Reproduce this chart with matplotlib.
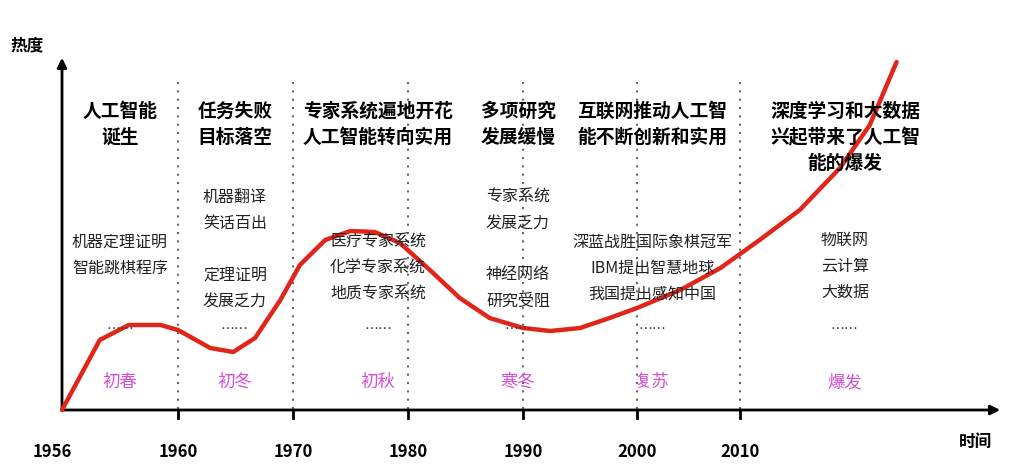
import numpy as np
import matplotlib.pyplot as plt

plt.rcParams['font.family'] = ['Noto Sans CJK SC', 'Noto Sans CJK JP', 'DejaVu Sans']

# data
tick_years = [1956, 1960, 1970, 1980, 1990, 2000, 2010]
curve_years = [1956, 1957.3, 1958.3, 1959.4, 1960, 1962.8, 1964.8, 1966.7, 1968.9,
               1970.6, 1972.8, 1975, 1977.1, 1979.3, 1981.9, 1984.5, 1987.1, 1990,
               1992.4, 1995, 1997.6, 2000, 2004.2, 2008.1, 2011.9, 2015.8, 2019.7,
               2022.6, 2025.2]
curve_heat = [0, 70, 85, 85, 80, 62, 58, 72, 110, 145, 170, 179, 178, 167, 140,
              112, 92, 82, 79, 82, 92, 102, 120, 142, 170, 200, 242, 285, 348]
era_titles = ['人工智能\n诞生', '任务失败\n目标落空', '专家系统遍地开花\n人工智能转向实用',
              '多项研究\n发展缓慢', '互联网推动人工智\n能不断创新和实用', '深度学习和大数据\n兴起带来了人工智\n能的爆发']
era_items = [['机器定理证明', '智能跳棋程序'],
             ['机器翻译', '笑话百出', '', '定理证明', '发展乏力'],
             ['医疗专家系统', '化学专家系统', '地质专家系统'],
             ['专家系统', '发展乏力', '', '神经网络', '研究受阻'],
             ['深蓝战胜国际象棋冠军', 'IBM提出智慧地球', '我国提出感知中国'],
             ['物联网', '云计算', '大数据']]
seasons = ['初春', '初冬', '初秋', '寒冬', '复苏', '爆发']

# pixel layout
tick_px = [62, 178, 293, 408, 523, 637, 740]
base_y = 410

def year_px(y):
    y = np.asarray(y, float)
    px = np.interp(y, tick_years, tick_px)
    return np.where(y > 2010, 740 + (y - 2010) * 10.3, px)

fig = plt.figure(figsize=(10.14, 4.74), dpi=100)
ax = fig.add_axes([0, 0, 1, 1])
ax.set_xlim(0, 1014)
ax.set_ylim(474, 0)
ax.axis('off')

# axes arrows
ax.annotate('', xy=(1003, base_y), xytext=(60, base_y),
            arrowprops=dict(arrowstyle='-|>', color='black', lw=2, mutation_scale=14))
ax.annotate('', xy=(62, 55), xytext=(62, base_y + 2),
            arrowprops=dict(arrowstyle='-|>', color='black', lw=2, mutation_scale=14))
ax.text(10, 45, '热度', fontsize=12, fontweight='bold', va='center')
ax.text(975, 442, '时间', fontsize=12, fontweight='bold', va='center', ha='center')

for yr, px in zip(tick_years, tick_px):
    ax.text(px - (10 if yr == 1956 else 0), 452, str(yr), fontsize=12,
            fontweight='bold', ha='center', va='center')
    if yr != 1956:
        ax.plot([px, px], [82, base_y], ls=(0, (1, 3)), color='#666666', lw=1.5)
        ax.plot([px, px], [base_y, base_y + 8], color='black', lw=2)

# curve
ax.plot(year_px(curve_years), base_y - np.array(curve_heat), color='#e0261a',
        lw=3.2, solid_capstyle='round', solid_joinstyle='round', zorder=3)

centers = [120, 235, 378, 518, 652, 845]
item_y0 = [242, 197, 242, 197, 242, 240]
for i, c in enumerate(centers):
    ax.text(c, 102, era_titles[i], fontsize=13.5, fontweight='bold',
            ha='center', va='top', linespacing=1.45)
    for j, it in enumerate(era_items[i]):
        if it:
            ax.text(c, item_y0[i] + j * 26, it, fontsize=11.5, ha='center',
                    va='center', color='#222222')
    ax.text(c, 330, '……', fontsize=10, ha='center', va='center', color='#333333')
    ax.text(c, 382, seasons[i], fontsize=12.5, ha='center', va='center', color='#d64fd6')

fig.savefig('out.png', dpi=100)
